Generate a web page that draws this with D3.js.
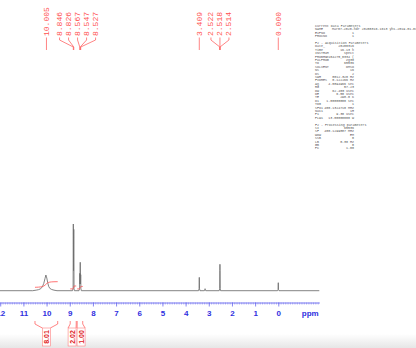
<!DOCTYPE html>
<html><head><meta charset="utf-8">
<script src="https://cdn.jsdelivr.net/npm/d3@7"></script>
<style>html,body{margin:0;padding:0;background:#fff;}svg{display:block;}</style>
</head><body>
<svg id="c" width="416" height="348"></svg>
<script>
// ---- data ----
const spectrum = [
  [12.01,0],[10.60,0],[10.45,0.8],[10.35,1.5],[10.25,3],[10.18,6],[10.12,11],[10.07,18],[10.03,23.5],
  [9.99,19],[9.95,12],[9.91,6.5],[9.86,3.5],[9.78,1.8],[9.68,0.8],[9.55,0],
  [8.88,0],[8.855,3],[8.846,100],[8.836,30],[8.826,92],[8.815,3],[8.80,0],
  [8.60,0],[8.575,3],[8.567,26],[8.557,10],[8.547,42.6],[8.537,10],[8.527,24],[8.518,3],[8.50,0],
  [3.44,0],[3.418,3],[3.409,20],[3.40,3],[3.38,0],
  [3.19,0],[3.168,1],[3.16,3],[3.152,1],[3.13,0],
  [2.55,0],[2.53,3],[2.522,30],[2.518,39.6],[2.514,30],[2.505,3],[2.49,0],
  [0.03,0],[0.008,2],[0.000,12],[-0.008,2],[-0.03,0],[-1.77,0]
];
const peakLabels = [10.005, 8.846, 8.826, 8.567, 8.547, 8.527, 3.409, 2.522, 2.518, 2.514, 0.000];
const integralRegions = [[10.50, 9.52], [8.98, 8.72], [8.68, 8.44]];
const integralValues = [8.01, 2.02, 1.00];
const majorTicks = [12, 11, 10, 9, 8, 7, 6, 5, 4, 3, 2, 1, 0];
const paramLines = [
  ["Current Data Parameters",""],["NAME","Mar07-2020-hdr  20200316-1613  yhs-2019-01-01"],["EXPNO","1"],["PROCNO","1"],["",""],
  ["F2 - Acquisition Parameters",""],["Date_","20200316"],["Time","16.13 h"],["INSTRUM","spect"],["PROBHD","Z104275_0334 ("],
  ["PULPROG","zg30"],["TD","65536"],["SOLVENT","DMSO"],["NS","16"],["DS","2"],["SWH","8012.820 Hz"],
  ["FIDRES","0.122266 Hz"],["AQ","4.0894966 sec"],["RG","57.23"],["DW","62.400 usec"],["DE","6.50 usec"],
  ["TE","298.0 K"],["D1","1.00000000 sec"],["TD0","1"],["SFO1","400.1324710 MHz"],["NUC1","1H"],
  ["P1","9.30 usec"],["PLW1","13.00000000 W"],["",""],
  ["F2 - Processing parameters",""],["SI","65536"],["SF","400.1299887 MHz"],["WDW","EM"],["SSB","0"],
  ["LB","0.30 Hz"],["GB","0"],["PC","1.00"]
];

// ---- drawing ----
const svg = d3.select("#c");
const defs = svg.append("defs");
const grad = defs.append("linearGradient").attr("id","bg").attr("x1",0).attr("x2",0).attr("y1",0).attr("y2",1);
grad.append("stop").attr("offset","0%").attr("stop-color","#ffffff");
grad.append("stop").attr("offset","100%").attr("stop-color","#e6e6e6");
svg.append("rect").attr("x",0).attr("y",334).attr("width",416).attr("height",14).attr("fill","url(#bg)");

const x = d3.scaleLinear().domain([12.01, -1.77]).range([0, 319.3]);
const baseY = 290.7;
const y = d3.scaleLinear().domain([0, 100]).range([baseY, 224]);

// spectrum
svg.append("path").datum(spectrum)
  .attr("d", d3.line().x(d => x(d[0])).y(d => y(d[1])))
  .attr("fill","none").attr("stroke","#6e6e6e").attr("stroke-width",0.85);

// integrals
const red = "#ff5050";
function interp(p){
  for (let i=0;i<spectrum.length-1;i++){
    const a=spectrum[i], b=spectrum[i+1];
    if (p<=a[0] && p>=b[0]){ const t=(a[0]-p)/(a[0]-b[0]||1); return a[1]+(b[1]-a[1])*t; }
  }
  return 0;
}
integralRegions.forEach((r,k) => {
  const pts = [r[0], ...spectrum.map(d=>d[0]).filter(p => p<r[0] && p>r[1]), r[1]];
  const cum=[0];
  for (let i=1;i<pts.length;i++) cum.push(cum[i-1] + (pts[i-1]-pts[i])*(interp(pts[i-1])+interp(pts[i]))/2);
  const tot = cum[cum.length-1] || 1;
  const rise = 2 + integralValues[k]*0.45;
  const y0 = baseY - (k===0 ? 3.4 : 1.8);
  svg.append("path").datum(pts.map((p,i)=>[p, cum[i]/tot]))
    .attr("d", d3.line().curve(d3.curveMonotoneX).x(d=>x(d[0])).y(d=>y0 - d[1]*rise))
    .attr("fill","none").attr("stroke",red).attr("stroke-width",0.8);
});

// axis
const axisY = 302.5;
const blue = "#2f2fe0";
const minor = d3.range(-17, 121).map(v => v/10);
const gMinor = svg.append("g").attr("transform",`translate(0,${axisY})`)
  .call(d3.axisBottom(x).tickValues(minor).tickSize(2).tickSizeOuter(0).tickFormat(""));
gMinor.select(".domain").attr("stroke","#7a7af0");
gMinor.selectAll(".tick line").attr("stroke","#7a7af0").attr("stroke-width",0.6);
const gMaj = svg.append("g").attr("transform",`translate(0,${axisY})`)
  .call(d3.axisBottom(x).tickValues(majorTicks).tickSize(4).tickSizeOuter(0).tickPadding(3.8).tickFormat(d3.format("d")));
gMaj.select(".domain").remove();
gMaj.selectAll(".tick line").attr("stroke","#6a6aee").attr("stroke-width",0.8);
gMaj.selectAll(".tick text").attr("fill",blue).attr("font-family","Liberation Sans, Arial, sans-serif")
  .attr("font-weight","bold").attr("font-size",8);
svg.append("text").attr("x",310.3).attr("y",316).attr("text-anchor","middle")
  .attr("fill",blue).attr("font-family","Liberation Sans, Arial, sans-serif").attr("font-weight","bold").attr("font-size",8).text("ppm");

// spread labels helper
function spread(px, gap){
  let clusters = px.map((p,i)=>({idx:[i], c:p}));
  let changed = true;
  const pos = cl => cl.idx.map((_,j)=> cl.c + (j-(cl.idx.length-1)/2)*gap);
  while (changed){
    changed = false;
    for (let i=0;i<clusters.length-1;i++){
      const a=clusters[i], b=clusters[i+1];
      const pa=pos(a), pb=pos(b);
      if (pb[0]-pa[pa.length-1] < gap){
        const idx=[...a.idx,...b.idx];
        clusters.splice(i,2,{idx, c:d3.mean(idx.map(j=>px[j]))});
        changed=true; break;
      }
    }
  }
  const out=[];
  clusters.forEach(cl => pos(cl).forEach((p,j)=> out[cl.idx[j]]=p));
  return out;
}

// peak labels
const lpx = peakLabels.map(p => x(p));
const lpos = spread(lpx, 9);
const gL = svg.append("g");
peakLabels.forEach((p,i) => {
  const lx = lpos[i], px = lpx[i];
  gL.append("text").attr("transform",`translate(${lx},36) rotate(-90)`)
    .attr("text-anchor","start").attr("dominant-baseline","central")
    .attr("font-family","Liberation Mono, DejaVu Sans Mono, monospace").attr("font-size",8)
    .attr("fill",red).text(d3.format(".3f")(p));
  const path = Math.abs(lx-px) < 0.5
    ? `M${lx},37.5L${px},50`
    : `M${lx},37.5L${lx},40L${px},47L${px},50`;
  gL.append("path").attr("d",path).attr("fill","none").attr("stroke",red).attr("stroke-width",0.7);
});

// integral labels
const imid = integralRegions.map(r => x((r[0]+r[1])/2));
const ipos = spread(imid, 9);
integralRegions.forEach((r,k) => {
  const cx = ipos[k], x0 = x(r[0]), x1 = x(r[1]);
  const bw = 8, top = 328, bot = 346;
  svg.append("path")
    .attr("d",`M${x0},321L${x0},324L${cx-bw/2},${top}M${x1},321L${x1},324L${cx+bw/2},${top}`)
    .attr("fill","none").attr("stroke",red).attr("stroke-width",0.7);
  svg.append("rect").attr("x",cx-bw/2).attr("y",top).attr("width",bw).attr("height",bot-top)
    .attr("fill","#fff").attr("stroke","#ff8080").attr("stroke-width",0.6);
  svg.append("text").attr("transform",`translate(${cx},${(top+bot)/2}) rotate(-90)`)
    .attr("text-anchor","middle").attr("dominant-baseline","central")
    .attr("font-family","Liberation Sans, Arial, sans-serif").attr("font-weight","bold").attr("font-size",7)
    .attr("fill","#e02020").text(d3.format(".2f")(integralValues[k]));
});

// parameter block
const gP = svg.append("g").attr("font-family","Liberation Mono, monospace").attr("font-size",3.3).attr("fill","#555");
paramLines.forEach((l,i) => {
  const yy = 27 + i*3.4;
  gP.append("text").attr("x",315).attr("y",yy).text(l[0]);
  if (l[1]) {
    if (l[0]==="NAME") gP.append("text").attr("x",332).attr("y",yy).text(l[1]);
    else gP.append("text").attr("x",354).attr("y",yy).attr("text-anchor","end").text(l[1]);
  }
});
</script>
</body></html>
